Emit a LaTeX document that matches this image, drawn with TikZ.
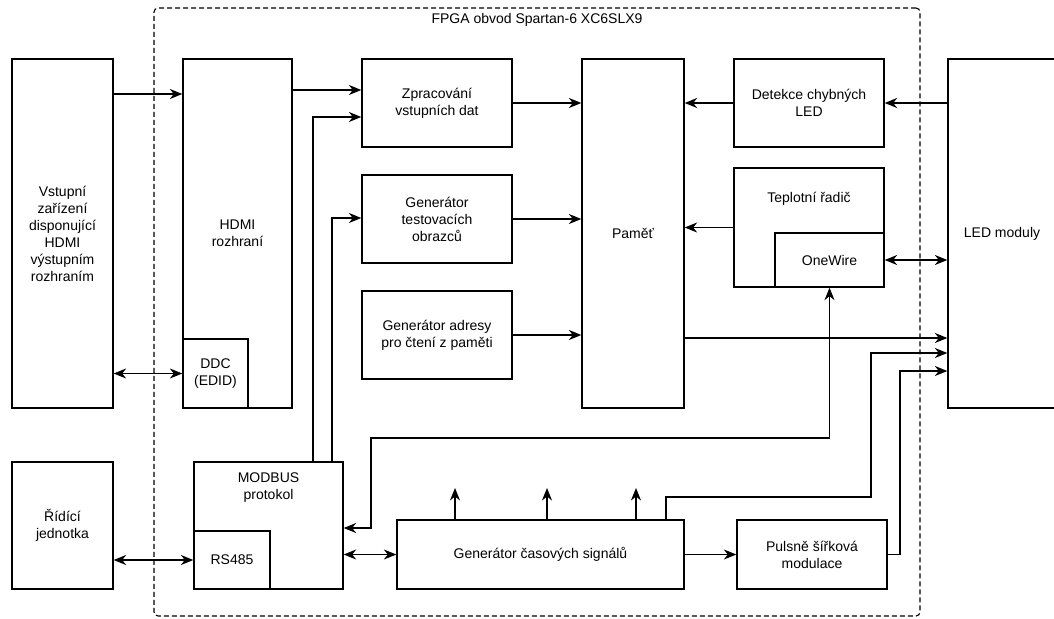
\documentclass[tikz,border=0pt]{standalone}
\usepackage{fontspec}
\setmainfont{Liberation Sans}
\usetikzlibrary{arrows.meta,calc}
\begin{document}
\begin{tikzpicture}[x=1pt,y=-1pt,
  box/.style={draw, line width=1.3pt, rectangle, align=center, inner sep=0pt, font=\fontsize{14}{17}\selectfont},
  txt/.style={align=center, inner sep=0pt, font=\fontsize{14}{17}\selectfont},
  tip/.tip={Stealth[length=12.5pt,width=10pt,inset=4pt]},
  arr/.style={line width=1.3pt, -tip},
  darr/.style={line width=1.3pt, tip-tip},
  frame/.style={draw, line width=1.1pt, dash pattern=on 5pt off 3pt, rounded corners=4pt, inner sep=0pt}
]
\useasboundingbox (0,0) rectangle (1054,618);
\clip (0,0) rectangle (1054,618);

% FPGA frame
\node[frame, minimum width=766, minimum height=608] (fpga) at (537,312) {};
\node[txt] (fpgalbl) at (537,20) {FPGA obvod Spartan-6 XC6SLX9};

% boxes
\node[box, minimum width=101, minimum height=349] (vst) at (62.5,233.5) {Vstupní\\zařízení\\disponující\\HDMI\\výstupním\\rozhraním};
\node[box, minimum width=109, minimum height=349] (hdmi) at (237.5,233.5) {HDMI\\rozhraní};
\node[box, minimum width=65, minimum height=69] (ddc) at (215.5,373.5) {DDC\\(EDID)};
\node[box, minimum width=150, minimum height=88] (zpr) at (437,103) {Zpracování\\vstupních dat};
\node[box, minimum width=150, minimum height=88] (gtest) at (437,219) {Generátor\\testovacích\\obrazců};
\node[box, minimum width=150, minimum height=88] (gadr) at (437,335) {Generátor adresy\\pro čtení z paměti};
\node[box, minimum width=102, minimum height=349] (pamet) at (633,233.5) {Paměť};
\node[box, minimum width=150, minimum height=88] (det) at (809,103) {Detekce chybných\\LED};
\node[box, minimum width=150, minimum height=119] (tep) at (809,227.5) {};
\node[txt] (teptxt) at (809,199) {Teplotní řadič};
\node[box, minimum width=109, minimum height=54] (onewire) at (829.5,260) {OneWire};
\node[box, minimum width=108, minimum height=349] (led) at (1002,233.5) {LED moduly};
\node[box, minimum width=101, minimum height=127] (rid) at (62.5,525.5) {Řídící\\jednotka};
\node[box, minimum width=149, minimum height=127] (modbus) at (268.5,525.5) {};
\node[txt] (modbustxt) at (268.5,488) {MODBUS\\protokol};
\node[box, minimum width=76, minimum height=58] (rs485) at (232,560) {RS485};
\node[box, minimum width=287, minimum height=69] (gcas) at (540.5,554.5) {Generátor časových signálů};
\node[box, minimum width=150, minimum height=69] (pwm) at (812,554.5) {Pulsně šířková\\modulace};

% helper coordinates
\coordinate (y94) at (0,94);
\coordinate (y90) at (0,90);
\coordinate (y338) at (0,338);
\coordinate (a1) at (313,117);
\coordinate (a2) at (332,218);
\coordinate (g1) at (666,497);
\coordinate (g2) at (871,353);
\coordinate (p1) at (900,371);
\coordinate (m1) at (371,528);
\coordinate (m2) at (829.5,438);
\coordinate (u1) at (455,488);
\coordinate (u2) at (547,488);
\coordinate (u3) at (636,488);

% connectors
\draw[arr] (vst.east |- y94) -- (hdmi.west |- y94);
\draw[darr] (vst.east |- ddc) -- (ddc.west);
\draw[arr] (hdmi.east |- y90) -- (zpr.west |- y90);
\draw[arr] (modbus.north -| a1) |- (zpr.west |- a1);
\draw[arr] (modbus.north -| a2) |- (gtest.west |- a2);
\draw[arr] (zpr.east) -- (pamet.west |- zpr);
\draw[arr] (gtest.east) -- (pamet.west |- gtest);
\draw[arr] (gadr.east) -- (pamet.west |- gadr);
\draw[arr] (det.west) -- (pamet.east |- det);
\draw[arr] (led.west |- det) -- (det.east);
\draw[arr] (tep.west) -- (pamet.east |- tep);
\draw[darr] (onewire.east) -- (led.west |- onewire);
\draw[arr] (pamet.east |- y338) -- (led.west |- y338);
\draw[arr] (gcas.north -| g1) -- (g1) -| (g2) -- (led.west |- g2);
\draw[arr] (pwm.east) -| (p1) -- (led.west |- p1);
\draw[arr] (gcas.east) -- (pwm.west);
\draw[darr] (modbus.east |- gcas) -- (gcas.west);
\draw[darr] (rid.east |- rs485) -- (rs485.west);
\draw[darr] (modbus.east |- m1) -- (m1) |- (m2) -- (onewire.south);
\draw[arr] (gcas.north -| u1) -- (u1);
\draw[arr] (gcas.north -| u2) -- (u2);
\draw[arr] (gcas.north -| u3) -- (u3);
\end{tikzpicture}
\end{document}
